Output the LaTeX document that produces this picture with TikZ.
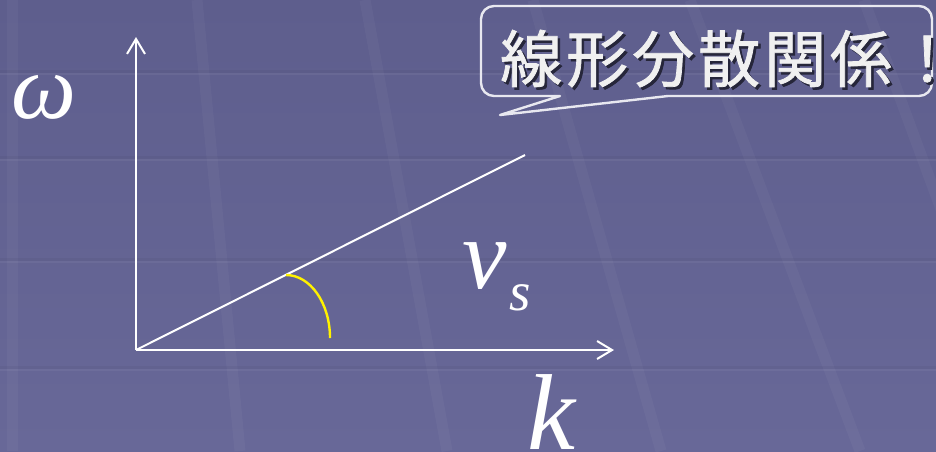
\documentclass[tikz,border=0pt]{standalone}
\usepackage{fontspec}
\setmainfont{Liberation Serif}
\newfontfamily\jpfont[FakeBold=1.2]{Noto Sans CJK JP}
\usetikzlibrary{arrows.meta}
\definecolor{bgtop}{RGB}{94,94,141}
\definecolor{bgbot}{RGB}{104,104,152}
\definecolor{calloutline}{RGB}{232,232,240}
\definecolor{jptext}{RGB}{240,240,240}
\definecolor{jpshadow}{RGB}{38,38,58}
\tikzset{
  band/.style={draw=white, draw opacity=0.035, line width=11pt},
  hline/.style={draw=white, draw opacity=0.05, line width=2.5pt},
  hshadow/.style={draw=black, draw opacity=0.04, line width=2.5pt},
  axisline/.style={draw=white, line width=2.2pt, -{Straight Barb[length=15pt,width=18pt,line width=2pt]}},
  plotline/.style={draw=white, line width=2pt},
  anglearc/.style={draw=yellow, line width=2.4pt},
  lbl/.style={text=white, inner sep=0pt},
  callout/.style={draw=calloutline, line width=2.4pt, line join=round, line cap=round},
}
\newcommand{\jpline}{線\kern4pt形\kern4pt分\kern4pt散\kern4pt関\kern4pt係\kern4pt！\kern-26pt}
\begin{document}
\begin{tikzpicture}[x=1pt,y=-1pt]
\useasboundingbox (0,0) rectangle (936,451);
\fill[top color=bgtop,bottom color=bgbot] (0,0) rectangle (936,451);
% faint background pattern
\foreach \a/\b in {12/12,197/240,365/447,533/661,690/860,864/1030}
  \draw[band] (\a,0) -- (\b,451);
\foreach \y in {74,160,262,370}{
  \draw[hshadow] (0,\y-2.5) -- (936,\y-2.5);
  \draw[hline] (0,\y) -- (936,\y);
}
% axes and line
\coordinate (O) at (136,350);
\coordinate (ytip) at (136,37);
\coordinate (xtip) at (614,350);
\coordinate (lend) at (525,155);
\coordinate (arcA) at (286,275);
\coordinate (arcB) at (330,338);
\draw[axisline] (O) -- (ytip);
\draw[axisline] (O) -- (xtip);
\draw[plotline] (O) -- (lend);
\draw[anglearc] (arcA) .. controls (310.3,275) and (330,303.2) .. (arcB);
% labels
\node[lbl, font=\fontsize{92}{92}\selectfont\itshape] (omega) at (44,97) {ω};
\node[lbl, anchor=base west] (vs) at (462,288) {\fontsize{100}{100}\selectfont\itshape v\kern3pt\raisebox{-22pt}{\fontsize{55}{55}\selectfont s}};
\node[lbl, anchor=base west, font=\fontsize{108}{108}\selectfont\itshape] (k) at (527,449) {k};
% callout
\draw[callout] (560,96) -- (500,115) -- (668,96) [rounded corners=13pt] -- (932,96) -- (932,6) -- (481,6) -- (481,96) -- (560,96);
\node[anchor=base west, inner sep=0pt, text=jptext] (jt) at (500,82)
  {\jpfont\fontsize{62}{62}\selectfont\makebox[0pt][l]{\kern2.5pt\raisebox{-2.5pt}{\color{jpshadow}\jpline}}\jpline};
\end{tikzpicture}
\end{document}
